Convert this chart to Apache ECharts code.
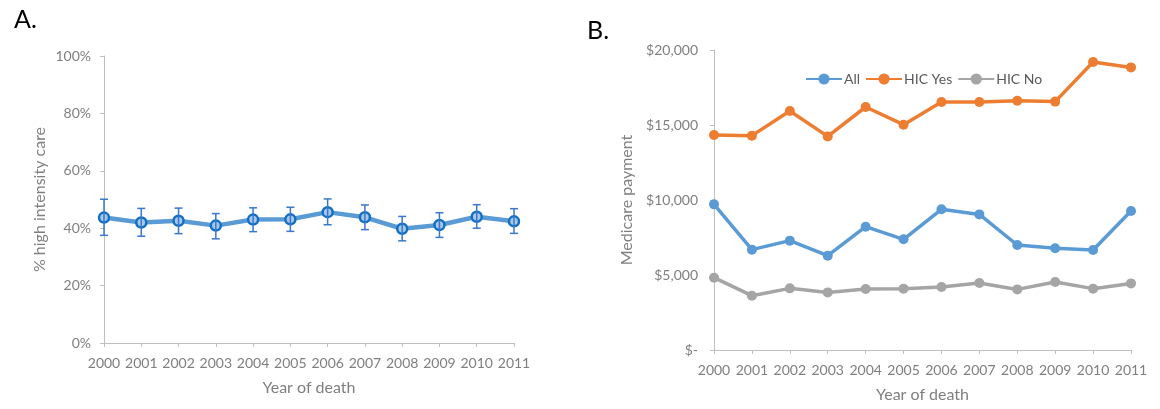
<!DOCTYPE html>
<html>
<head>
<meta charset="utf-8">
<script src="https://cdn.jsdelivr.net/npm/echarts@6/dist/echarts.min.js"></script>
<style>
html,body{margin:0;padding:0;background:#fff;}
#c{width:1160px;height:409px;}
</style>
</head>
<body>
<div id="c"></div>
<script>
// ---- data ----
const years = ['2000','2001','2002','2003','2004','2005','2006','2007','2008','2009','2010','2011'];
const pctHigh  = [43.7, 42.0, 42.6, 40.9, 43.0, 43.1, 45.6, 43.8, 39.8, 41.1, 44.0, 42.4];
const pctUpper = [50.1, 46.9, 47.0, 45.1, 47.1, 47.3, 50.2, 48.1, 44.1, 45.4, 48.2, 46.8];
const pctLower = [37.5, 37.2, 38.1, 36.3, 38.8, 38.9, 41.2, 39.5, 35.6, 36.8, 40.0, 38.2];
const pctTicks = [0, 20, 40, 60, 80, 100];
const payAll = [9710, 6690, 7290, 6290, 8220, 7380, 9380, 9040, 7000, 6780, 6670, 9270];
const payYes = [14330, 14290, 15930, 14240, 16200, 15020, 16530, 16530, 16620, 16560, 19200, 18840];
const payNo  = [4820, 3620, 4110, 3840, 4070, 4090, 4200, 4470, 4040, 4530, 4090, 4440];
const payTicks = [0, 5000, 10000, 15000, 20000];
const seriesNames = ['All', 'HIC Yes', 'HIC No'];

const FONT = 'Lato, "Open Sans", sans-serif';
const AX = '#bfbfbf';
const TXT = '#7f7f7f';

const errData = years.map((y, i) => [i, pctLower[i], pctUpper[i]]);

const chart = echarts.init(document.getElementById('c'), null, {renderer: 'canvas'});

function xAxisCfg(gridIndex) {
  return {
    type: 'category', gridIndex, data: years, boundaryGap: false,
    axisLine: {lineStyle: {color: AX, width: 1}},
    axisTick: {show: true, alignWithLabel: true, length: 4, lineStyle: {color: AX}},
    axisLabel: {color: TXT, fontFamily: FONT, fontSize: 14, margin: 13, interval: 0},
    name: 'Year of death', nameLocation: 'middle', nameGap: 37,
    nameTextStyle: {color: TXT, fontFamily: FONT, fontSize: 16}
  };
}

chart.setOption({
  animation: false,
  textStyle: {fontFamily: FONT},
  title: [
    {text: 'A.', left: 9, top: 2, textStyle: {fontFamily: FONT, fontSize: 25, fontWeight: 'normal', color: '#000'}},
    {text: 'B.', left: 582, top: 13, textStyle: {fontFamily: FONT, fontSize: 25, fontWeight: 'normal', color: '#000'}}
  ],
  legend: {
    data: seriesNames, left: 800, top: 67,
    itemWidth: 36, itemHeight: 14, itemGap: 5,
    textStyle: {color: '#595959', fontFamily: FONT, fontSize: 14, padding: [0, 0, 0, -3]}
  },
  grid: [
    {left: 104, top: 56, width: 410, height: 287},
    {left: 714, top: 50, width: 417, height: 300}
  ],
  xAxis: [xAxisCfg(0), xAxisCfg(1)],
  yAxis: [
    {
      type: 'value', gridIndex: 0, min: pctTicks[0], max: pctTicks[pctTicks.length - 1], interval: 20,
      splitLine: {show: false},
      axisLine: {show: true, lineStyle: {color: AX}},
      axisTick: {show: true, length: 4, lineStyle: {color: AX}},
      axisLabel: {color: TXT, fontFamily: FONT, fontSize: 14, margin: 13, formatter: '{value}%'},
      name: '% high intensity care', nameLocation: 'middle', nameGap: 56,
      nameTextStyle: {color: TXT, fontFamily: FONT, fontSize: 16}
    },
    {
      type: 'value', gridIndex: 1, min: payTicks[0], max: payTicks[payTicks.length - 1], interval: 5000,
      splitLine: {show: false},
      axisLine: {show: true, lineStyle: {color: AX}},
      axisTick: {show: true, length: 4, lineStyle: {color: AX}},
      axisLabel: {color: TXT, fontFamily: FONT, fontSize: 14, margin: 16,
        formatter: v => v === 0 ? '$-' : '$' + v.toLocaleString('en-US')},
      name: 'Medicare payment', nameLocation: 'middle', nameGap: 79,
      nameTextStyle: {color: TXT, fontFamily: FONT, fontSize: 16}
    }
  ],
  series: [
    {
      type: 'line', name: 'pct', xAxisIndex: 0, yAxisIndex: 0, data: pctHigh,
      symbol: 'circle', symbolSize: 10, z: 2,
      lineStyle: {color: '#5b9bd5', width: 4.5},
      itemStyle: {color: '#a8c7e6', borderColor: '#1170c4', borderWidth: 2.5}
    },
    {
      type: 'custom', name: 'err', xAxisIndex: 0, yAxisIndex: 0, data: errData, z: 3,
      encode: {x: 0, y: [1, 2]},
      renderItem: function (params, api) {
        const i = api.value(0);
        const lo = api.coord([i, api.value(1)]);
        const hi = api.coord([i, api.value(2)]);
        const half = 4;
        const st = {stroke: '#3a78c9', lineWidth: 1.5};
        return {
          type: 'group',
          children: [
            {type: 'line', shape: {x1: lo[0], y1: lo[1], x2: hi[0], y2: hi[1]}, style: st},
            {type: 'line', shape: {x1: lo[0] - half, y1: lo[1], x2: lo[0] + half, y2: lo[1]}, style: st},
            {type: 'line', shape: {x1: hi[0] - half, y1: hi[1], x2: hi[0] + half, y2: hi[1]}, style: st}
          ]
        };
      }
    },
    {
      type: 'line', name: seriesNames[0], xAxisIndex: 1, yAxisIndex: 1, data: payAll,
      symbol: 'circle', symbolSize: 10, color: '#5b9bd5',
      lineStyle: {width: 3.5}, itemStyle: {color: '#5b9bd5'}
    },
    {
      type: 'line', name: seriesNames[1], xAxisIndex: 1, yAxisIndex: 1, data: payYes,
      symbol: 'circle', symbolSize: 10, color: '#ed7d31',
      lineStyle: {width: 3.5}, itemStyle: {color: '#ed7d31'}
    },
    {
      type: 'line', name: seriesNames[2], xAxisIndex: 1, yAxisIndex: 1, data: payNo,
      symbol: 'circle', symbolSize: 10, color: '#a5a5a5',
      lineStyle: {width: 3.5}, itemStyle: {color: '#a5a5a5'}
    }
  ]
});
</script>
</body>
</html>
